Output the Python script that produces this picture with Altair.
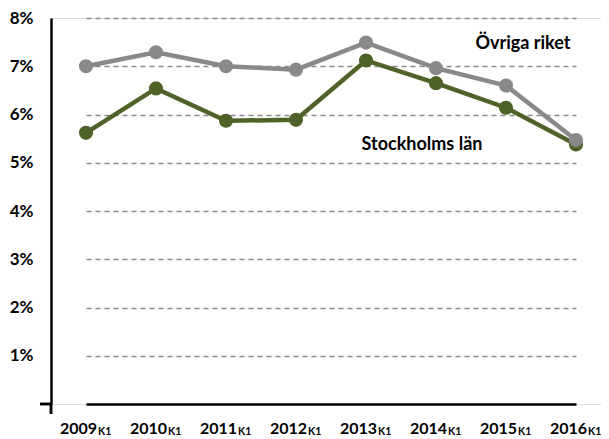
import altair as alt
import pandas as pd

years = ["2009", "2010", "2011", "2012", "2013", "2014", "2015", "2016"]
ovriga = [7.00, 7.29, 7.00, 6.93, 7.49, 6.96, 6.60, 5.47]
stockholm = [5.62, 6.54, 5.87, 5.89, 7.12, 6.65, 6.14, 5.38]
quarter = "K1"
y_ticks = [1, 2, 3, 4, 5, 6, 7, 8]

GRAY = "#898989"
GREEN = "#4f6228"
FONT = "Lato"
W, H = 550, 386

df_o = pd.DataFrame({"year": years, "value": ovriga})
df_s = pd.DataFrame({"year": years, "value": stockholm})
df_lab = pd.DataFrame({"year": years, "q": [quarter] * len(years)})
df_ann = pd.DataFrame({"text": ["Övriga riket", "Stockholms län"], "value": [7.47, 5.36], "xp": [472, 371]})

xs = alt.Scale(type="point", range=[35, 525], padding=0)
ys = alt.Scale(domain=[0, 8], nice=False)

x_enc = alt.X("year:N", scale=xs, axis=alt.Axis(labels=False, ticks=False, title=None,
                                                domainColor="black", domainWidth=2.5, grid=False))
y_enc = alt.Y("value:Q", scale=ys, axis=alt.Axis(values=y_ticks, labelExpr="datum.value + '%'",
                                                 title=None, ticks=False, tickSize=0, labelPadding=18,
                                                 labelFont=FONT, labelFontSize=17, labelFontWeight="bold",
                                                 labelColor="black", domainColor="black", domainWidth=2.5,
                                                 grid=True, gridDash=[5, 4], gridColor=GRAY, gridWidth=1.3))

def series(df, color):
    base = alt.Chart(df)
    line = base.mark_line(color=color, strokeWidth=4.5).encode(x=x_enc, y=y_enc)
    pts = base.mark_circle(color=color, size=200, opacity=1).encode(x=x_enc, y=y_enc)
    return [line, pts]

LABEL_Y = H + 30
years_txt = alt.Chart(df_lab).mark_text(align="right", baseline="alphabetic", dx=11, font=FONT,
                                        fontSize=16, fontWeight="bold", color="black").encode(
    x=alt.X("year:N", scale=xs), y=alt.value(LABEL_Y), text="year:N")
q_txt = alt.Chart(df_lab).mark_text(align="left", baseline="alphabetic", dx=12, dy=1, font=FONT,
                                    fontSize=10.5, fontWeight="bold", color="black").encode(
    x=alt.X("year:N", scale=xs), y=alt.value(LABEL_Y), text="q:N")

ann = alt.Chart(df_ann).mark_text(align="center", baseline="middle", font=FONT, fontSize=18,
                                  fontWeight="bold", color="black").encode(
    x=alt.X("xp:Q", scale=None), y=alt.Y("value:Q", scale=ys), text="text:N")

cross_h = alt.Chart(df_ann).mark_rule(color="black", strokeWidth=2.5).encode(
    x=alt.value(-11), x2=alt.value(0), y=alt.value(H))
cross_v = alt.Chart(df_ann).mark_rule(color="black", strokeWidth=2.5).encode(
    x=alt.value(0), y=alt.value(H), y2=alt.value(H + 10))

layers = series(df_s, GREEN) + series(df_o, GRAY) + [years_txt, q_txt, ann, cross_h, cross_v]

chart = alt.layer(*layers).properties(
    width=W, height=H,
    autosize=alt.AutoSizeParams(type="none"),
    padding={"left": 43, "top": 10, "right": 0, "bottom": 35},
).configure_view(stroke=None).configure(background="white")

chart.save("out.html", embed_options={"renderer": "svg", "actions": False})
